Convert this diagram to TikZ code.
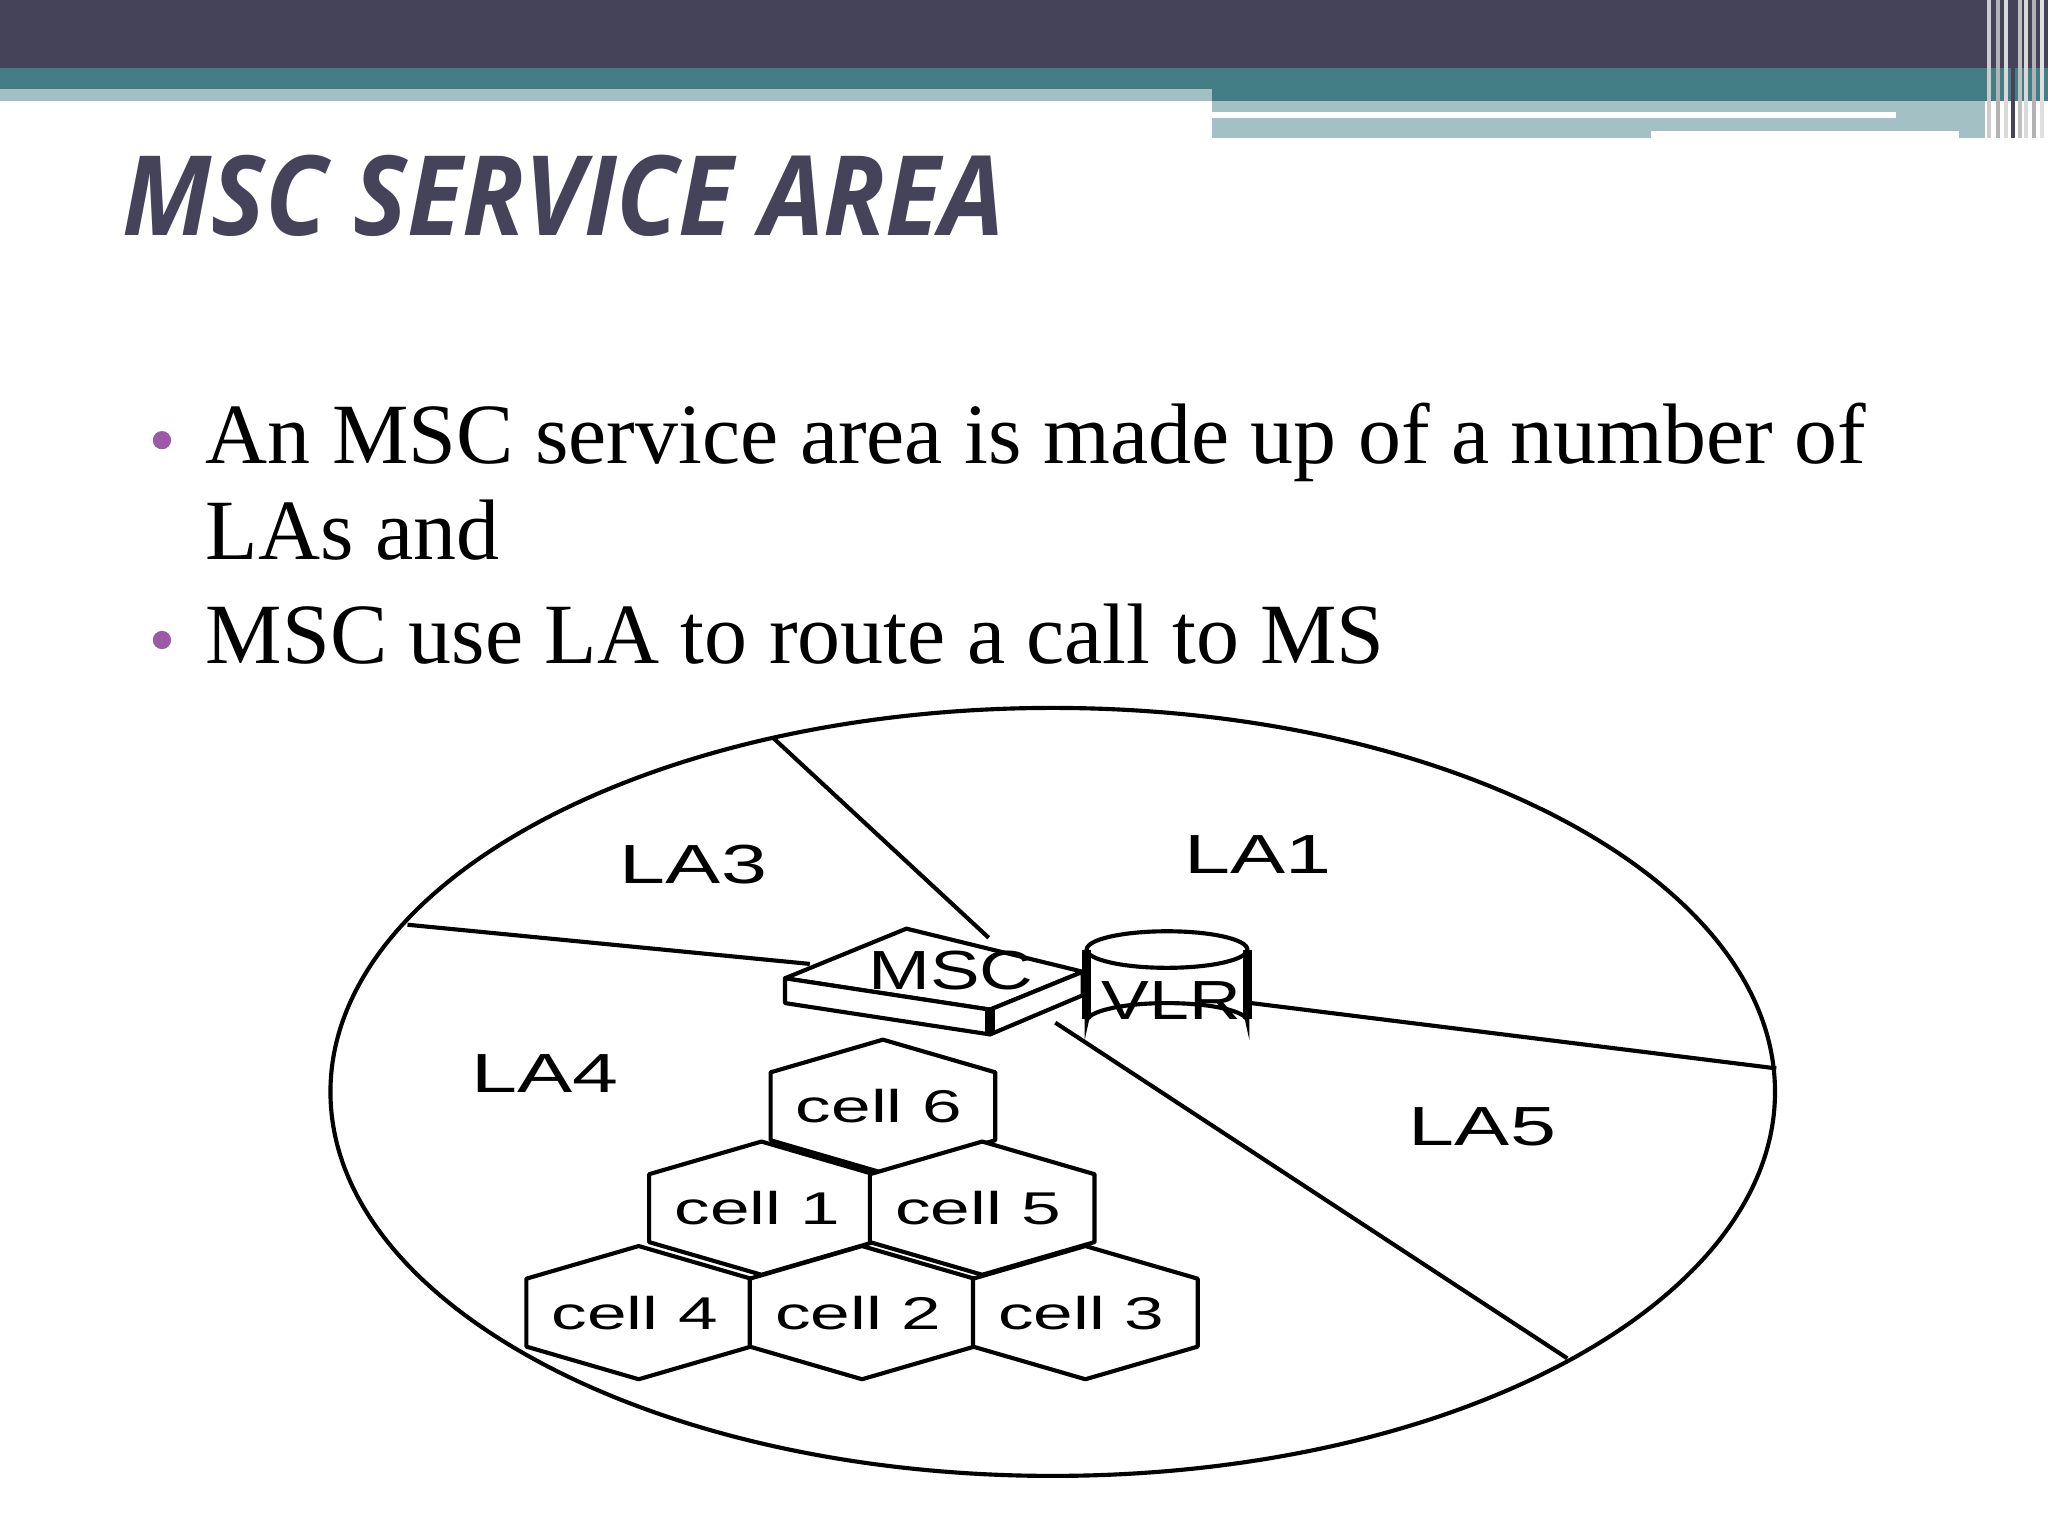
\documentclass[tikz,border=0pt]{standalone}
\usepackage{fontspec}
\setmainfont{Liberation Serif}
\newfontfamily\titlefont{Open Sans}
\newfontfamily\diafont{Liberation Sans}
\definecolor{dark}{HTML}{45435A}
\definecolor{teal}{HTML}{447E85}
\definecolor{lightb}{HTML}{A3C1C4}
\definecolor{purp}{HTML}{9B59A8}
\newcommand{\wide}[2]{\scalebox{#1}[1]{#2}}
\begin{document}
\begin{tikzpicture}[x=0.01cm,y=-0.01cm,
  ln/.style={line width=0.9pt,black},
  lab/.style={font=\diafont\fontsize{12}{12}\selectfont},
  celllab/.style={font=\diafont\fontsize{10}{10}\selectfont},
  btext/.style={anchor=base west,font=\fontsize{18.7}{22}\selectfont,inner sep=0}]
\useasboundingbox (0,0) rectangle (1568,1176);
% header
\fill[dark] (0,0) rectangle (1568,52);
\fill[teal] (0,52) rectangle (928,68);
\fill[teal] (928,52) rectangle (1568,77);
\fill[lightb] (0,68) rectangle (928,77);
\fill[lightb] (928,77) rectangle (1520,106);
\fill[white] (928,86) rectangle (1452,90);
\fill[white] (1264,100) rectangle (1500,106);
\foreach \xx/\cc in {1521/gray!40,1528/gray!60,1534/gray!30,1540/dark,1545/gray!50,1550/gray!30,1556/gray!60,1562/gray!25}
  \fill[\cc] (\xx,0) rectangle ++(3,106);
% title
\node[anchor=base west,inner sep=0,text=dark,font=\titlefont\bfseries\itshape\fontsize{23}{26}\selectfont] (title) at (93,180) {\scalebox{0.96}[1.05]{MSC SERVICE AREA}};
% bullets
\fill[purp] (124,337) circle (7);
\fill[purp] (124,490) circle (7);
\node[btext] (b1) at (157,355) {An MSC service area is made up of a number of};
\node[btext] (b1b) at (157,428) {LAs and};
\node[btext] (b2) at (157,508) {MSC use LA to route a call to MS};
% diagram
\draw[ln] (806,836) ellipse (553 and 294);
\draw[ln] (592,565) -- (757,718);
\draw[ln] (312,708) -- (620,738);
\draw[ln] (958,768) -- (1360,818);
\draw[ln] (808,783) -- (1200,1040);
% MSC slab
\draw[ln,fill=white,line join=round] (601,749) -- (694,711) -- (829,744) -- (758,773) -- cycle;
\draw[ln,fill=white,line join=round] (601,749) -- (601,768) -- (758,792) -- (758,773) -- cycle;
\draw[ln,fill=white,line join=round] (758,773) -- (829,744) -- (829,762) -- (758,792) -- cycle;
\draw[line width=2pt] (758,773) -- (758,792);
\node[lab] (msc) at (728,743) {\wide{1.35}{MSC}};
% VLR
\draw[ln,fill=white] (832,727) -- (832,782) arc[start angle=180,end angle=360,x radius=61.5,y radius=14] -- (955,727);
\draw[ln,fill=white] (893.5,727) ellipse (61.5 and 14);
\draw[line width=2pt] (832,727) -- (832,780) (955,727) -- (955,780);
\node[lab] (vlr) at (897,766) {\wide{1.3}{VLR}};
% hexagons
\foreach \cx/\cy/\t [count=\i] in {676/847/cell 6,583/925/cell 1,752/925/cell 5,489/1005/cell 4,660/1005/cell 2,831/1005/cell 3}{
  \draw[ln,fill=white,line join=round] (\cx,\cy-51) -- (\cx+86,\cy-26) -- (\cx+86,\cy+26) -- (\cx,\cy+51) -- (\cx-86,\cy+26) -- (\cx-86,\cy-26) -- cycle;
  \node[celllab] (cell\i) at (\cx-3,\cy) {\wide{1.55}{\t}};
}
% labels
\node[lab] (la3) at (531,662) {\wide{1.5}{LA3}};
\node[lab] (la1) at (963,654) {\wide{1.5}{LA1}};
\node[lab] (la4) at (417,822) {\wide{1.5}{LA4}};
\node[lab] (la5) at (1135,863) {\wide{1.5}{LA5}};
\end{tikzpicture}
\end{document}
